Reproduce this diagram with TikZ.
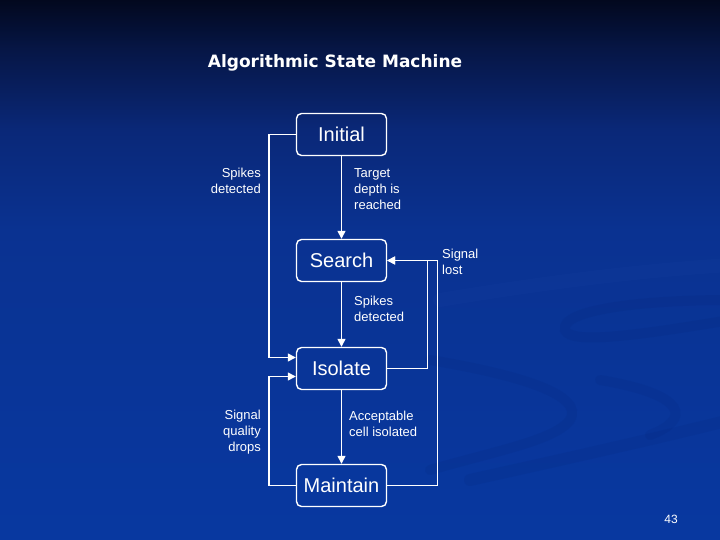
\documentclass[tikz,border=0pt]{standalone}
\usepackage{fontspec}
\setmainfont{Liberation Sans}
\newfontfamily\titlefont{DejaVu Sans}
\usetikzlibrary{arrows.meta}
\definecolor{bgA}{RGB}{2,8,30}
\definecolor{bgB}{RGB}{6,22,70}
\definecolor{bgC}{RGB}{10,40,120}
\definecolor{bgD}{RGB}{10,50,145}
\definecolor{bgE}{RGB}{8,56,160}
\definecolor{swdark}{RGB}{5,35,120}
\definecolor{swlight}{RGB}{30,75,175}
\pgfdeclareverticalshading{slidebg}{100bp}{color(0bp)=(bgE); color(25bp)=(bgE); color(53.7bp)=(bgD); color(62.96bp)=(bgC); color(70.4bp)=(bgB); color(75bp)=(bgA); color(100bp)=(bgA)}
\tikzset{
  state/.style={draw=white, line width=1.4pt, rounded corners=5pt, minimum width=90pt, minimum height=42pt, inner sep=0pt, text=white, font=\fontsize{20}{24}\selectfont},
  lbl/.style={text=white, inner sep=0pt, font=\fontsize{13}{16}\selectfont},
  arr/.style={draw=white, line width=1.4pt, -{Triangle[length=8pt,width=8pt]}},
}
\begin{document}
\begin{tikzpicture}[x=1pt,y=-1pt]
\useasboundingbox (0,0) rectangle (720,540);
\shade[shading=slidebg] (0,0) rectangle (720,540);
% faint background swooshes
\begin{scope}[line cap=round]
\draw[swlight, opacity=0.10, line width=14pt] (440,300) .. controls (560,280) and (650,270) .. (730,265);
\draw[swdark, opacity=0.16, line width=10pt] (730,300) .. controls (640,300) and (560,310) .. (565,330) .. controls (570,345) and (640,335) .. (730,320);
\draw[swdark, opacity=0.15, line width=10pt] (430,360) .. controls (520,375) and (585,395) .. (570,420) .. controls (555,440) and (500,450) .. (430,470);
\draw[swdark, opacity=0.14, line width=10pt] (600,380) .. controls (690,395) and (690,420) .. (650,435);
\draw[swdark, opacity=0.14, line width=12pt] (470,480) .. controls (560,460) and (650,440) .. (730,420);
\end{scope}
% title
\node (title) at (335,62.5) {\titlefont\bfseries\fontsize{17}{21}\selectfont\color{white}Algorithmic State Machine};
% states
\node[state] (I) at (341.5,134.5) {Initial};
\node[state] (S) at (341.5,260.5) {Search};
\node[state] (Is) at (341.5,368.5) {Isolate};
\node[state] (M) at (341.5,485.5) {Maintain};
% connectors
\draw[arr] (I.south) -- (S.north);
\draw[arr] (S.south) -- (Is.north);
\draw[arr] (Is.south) -- (M.north);
\draw[arr] (I.west) -- ++(-27,0) |- ([yshift=11pt]Is.west);
\draw[arr] (M.west) -- ++(-27,0) |- ([yshift=-8pt]Is.west);
\draw[arr] (Is.east) -- ++(40,0) |- (S.east);
\draw[arr] (M.east) -- ++(50,0) |- (S.east);
% labels
\node[lbl, align=right, anchor=east] (l1) at (261,181) {Spikes\\detected};
\node[lbl, align=left, anchor=west] (l2) at (354,189) {Target\\depth is\\reached};
\node[lbl, align=left, anchor=west] (l3) at (442,262) {Signal\\lost};
\node[lbl, align=left, anchor=west] (l4) at (354,309) {Spikes\\detected};
\node[lbl, align=right, anchor=east] (l5) at (261,432) {Signal\\quality\\drops};
\node[lbl, align=left, anchor=west] (l6) at (349,424) {Acceptable\\cell isolated};
\node[lbl, font=\fontsize{12}{14}\selectfont] (pg) at (671,519) {43};
\end{tikzpicture}
\end{document}
